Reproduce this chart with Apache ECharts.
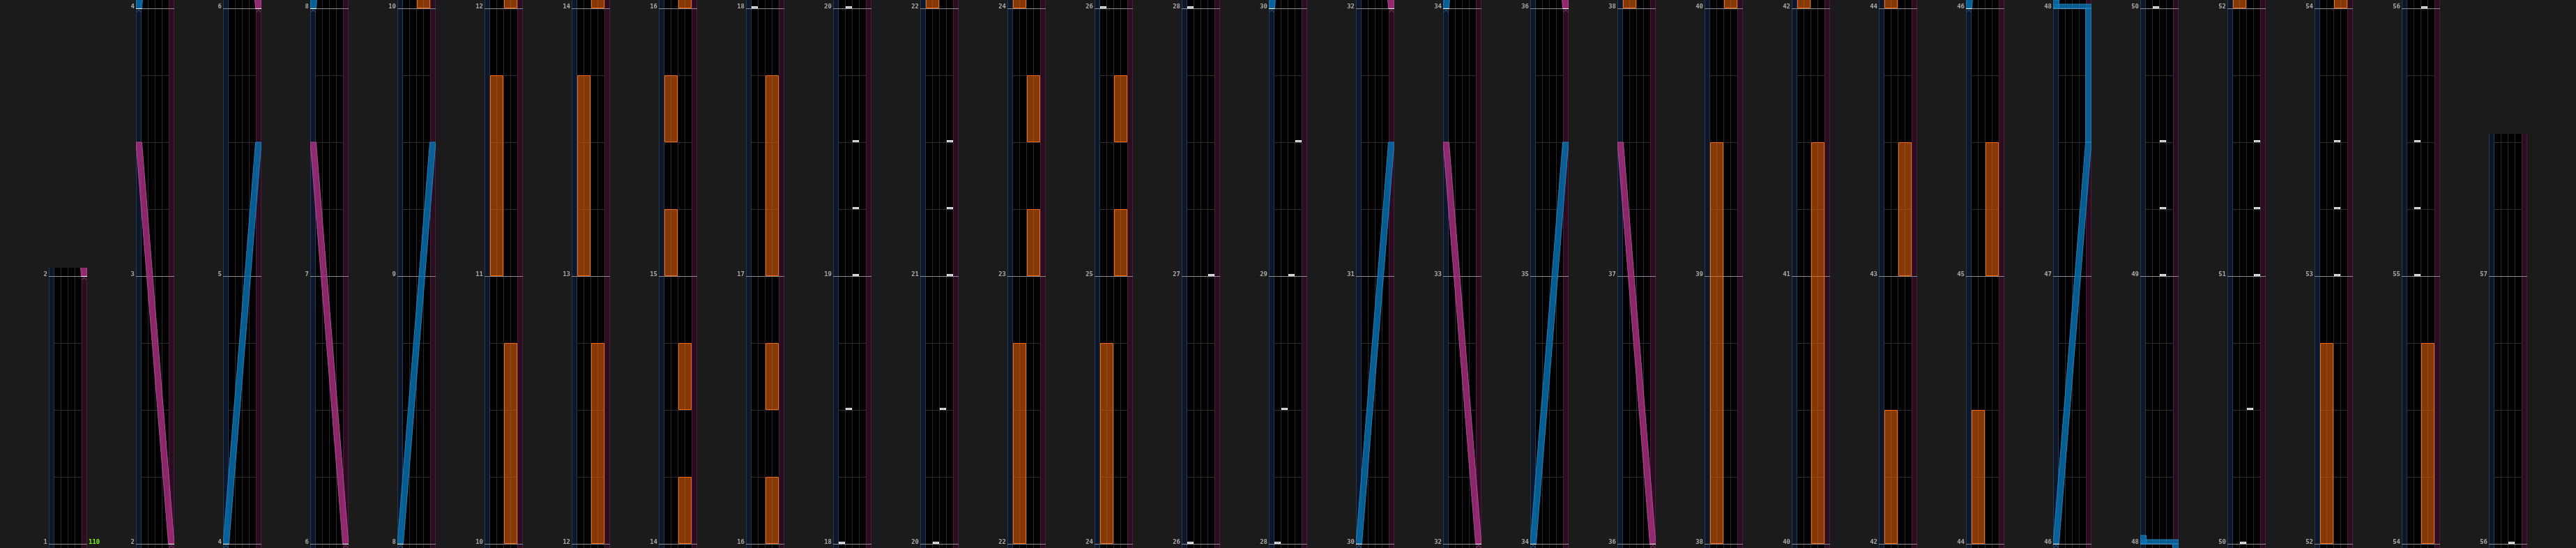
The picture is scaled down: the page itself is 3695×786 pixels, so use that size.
<!DOCTYPE html>
<html>
<head>
<meta charset="utf-8">
<script src="https://cdn.jsdelivr.net/npm/echarts@6/dist/echarts.min.js"></script>
<style>
html,body{margin:0;padding:0;background:#1b1b1b;overflow:hidden;}
#chart{width:3695px;height:786px;}
</style>
</head>
<body>
<div id="chart"></div>
<script>
// ---------------- DATA (times are in measures: measure number + fraction) ----------------
const measureNumbers = [1,2,3,4,5,6,7,8,9,10,11,12,13,14,15,16,17,18,19,20,21,22,23,24,25,26,27,28,29,30,
  31,32,33,34,35,36,37,38,39,40,41,42,43,44,45,46,47,48,49,50,51,52,53,54,55,56,57];
const columnStartMeasures = [1,2,4,6,8,10,12,14,16,18,20,22,24,26,28,30,32,34,36,38,40,42,44,46,48,50,52,54,56];
const songEnd = 57.53125;
const beatsPerMeasure = 4;
const bpmChanges = [[1, 110]];

// BT chips: [time, lane]  lane 0..3 = A..D
const btNotes = [
  [18,0],[18.5,1],[19,2],[19.25,2],[19.5,2],[20,1],[20.5,2],[21,3],[21.25,3],[21.5,3],
  [26,0],[27,3],[28,0],[28.5,1],[29,2],[29.5,3],
  [49,2],[49.25,2],[49.5,2],[50,1],[50.5,2],[51,3],[51.25,3],[51.5,3],
  [53,2],[53.25,2],[53.5,2],[55,1],[55.25,1],[55.5,1],[56,2]
];

// FX holds: [start, end, side]  side 0 = left (A+B), 1 = right (C+D)
const fxHolds = [
  [10,10.75,1],[11,11.75,0],[12,12.75,1],[13,13.75,0],
  [14,14.25,1],[14.5,14.75,1],[15,15.25,0],[15.5,15.75,0],
  [16,16.25,1],[16.5,16.75,1],[17,17.75,1],
  [22,22.75,0],[23,23.25,1],[23.5,23.75,1],
  [24,24.75,0],[25,25.25,1],[25.5,25.75,1],
  [38,39.5,0],[40,41.5,1],[42,42.5,0],[43,43.5,1],[44,44.5,0],[45,45.5,1],
  [52,52.75,0],[54,54.75,1]
];

// Lasers: list of polylines, each point [time, position 0..1]
const laserLeft = [
  [[4,0],[5.5,1]],
  [[8,0],[9.5,1]],
  [[30,0],[31.5,1]],
  [[34,0],[35.5,1]],
  [[46,0],[47.5,1],[48,1],[48,0],[48.03125,0]]
];
const laserRight = [
  [[2,1],[3.5,0]],
  [[6,1],[7.5,0]],
  [[32,1],[33.5,0]],
  [[36,1],[37.5,0]]
];

// ---------------- LAYOUT / STYLE ----------------
const PX_PER_MEASURE = 384;
const CANVAS_H = 786;
const COL_LEFT0 = 70, COL_PITCH = 125, COL_W = 55;
const LANE_UNITS = 5.5;          // 0.75 laser + 4 BT + 0.75 laser
const LASER_LANE = 0.75;
const BAND_W = 0.84;             // laser band width in lane units
const BOTTOM_PAD = 1/64, TOP_PAD = 1/32;

const C = {
  bg:'#1b1b1b', lane:'#000000',
  leftLane:'#0e1729', leftBorder:'#1f3b56',
  rightLane:'#2a0d1f', rightBorder:'#4e1a3d',
  sep:'#272727', beat:'#2b2b2b', measure:'#8a8a8a',
  label:'#a9a9a9', bpm:'#7cfc00',
  fxFill:'rgba(236,102,12,0.56)', fxStroke:'#f2690f',
  chipOuter:'#f2f6fa', chipInner:'#9aa6b3',
  blueFill:'rgba(8,112,175,0.82)', blueStroke:'#1c83c4',
  pinkFill:'rgba(168,48,128,0.82)', pinkStroke:'#b8479a'
};

function laserCenter(p){ return BAND_W/2 + p*(LANE_UNITS - BAND_W); }

// flatten laser polylines into segments
const laserSegments = [];
[[laserLeft,0],[laserRight,1]].forEach(([lines, side]) => {
  lines.forEach(pts => {
    for (let i = 0; i < pts.length - 1; i++) {
      laserSegments.push([pts[i][0], pts[i][1], pts[i+1][0], pts[i+1][1], side, i === 0 ? 1 : 0]);
    }
  });
});

const columns = columnStartMeasures.map((s, k) => {
  const next = columnStartMeasures[k+1];
  const vmin = s - BOTTOM_PAD;
  const vmax = next !== undefined ? next + TOP_PAD : songEnd;
  const height = (vmax - vmin) * PX_PER_MEASURE;
  return { k, vmin, vmax, height, left: COL_LEFT0 + COL_PITCH*k, top: CANVAS_H - height };
});

const grids = [], xAxes = [], yAxes = [], series = [];

columns.forEach(col => {
  const k = col.k;
  grids.push({ left: col.left, top: col.top, width: COL_W, height: col.height,
    show: true, backgroundColor: C.lane, borderWidth: 0, containLabel: false });
  xAxes.push({ type:'value', gridIndex:k, min:0, max:LANE_UNITS, show:false });
  yAxes.push({ type:'value', gridIndex:k, min:col.vmin, max:col.vmax, show:false });

  const base = { type:'custom', xAxisIndex:k, yAxisIndex:k, silent:true, animation:false };

  // lane structure
  series.push(Object.assign({}, base, {
    z: 1, clip: true, data: [[0, col.vmin]],
    renderItem: (params, api) => {
      const top = api.coord([0, col.vmax])[1], bot = api.coord([0, col.vmin])[1];
      const xPix = u => Math.floor(api.coord([u, col.vmin])[0]);
      const ch = [];
      const l0 = xPix(0), l1 = xPix(LASER_LANE), r0 = xPix(LANE_UNITS - LASER_LANE), r1 = xPix(LANE_UNITS);
      ch.push({type:'rect', shape:{x:l0, y:top, width:l1-l0+1, height:bot-top}, style:{fill:C.leftLane}});
      ch.push({type:'rect', shape:{x:r0, y:top, width:r1-r0, height:bot-top}, style:{fill:C.rightLane}});
      ch.push({type:'rect', shape:{x:l0, y:top, width:1, height:bot-top}, style:{fill:C.leftBorder}});
      ch.push({type:'rect', shape:{x:l1, y:top, width:1, height:bot-top}, style:{fill:C.leftBorder}});
      ch.push({type:'rect', shape:{x:r0, y:top, width:1, height:bot-top}, style:{fill:C.rightBorder}});
      ch.push({type:'rect', shape:{x:r1-1, y:top, width:1, height:bot-top}, style:{fill:C.rightBorder}});
      for (let i = 1; i <= 3; i++) {
        const xs = xPix(LASER_LANE + i);
        ch.push({type:'rect', shape:{x:xs, y:top, width:1, height:bot-top}, style:{fill:C.sep}});
      }
      return {type:'group', children: ch};
    }
  }));

  // measure + beat lines
  series.push(Object.assign({}, base, {
    z: 2, clip: true, data: measureNumbers.map(m => [m]),
    renderItem: (params, api) => {
      const m = api.value(0);
      if (m > col.vmax + 1 || m + 1 < col.vmin) return null;
      const ch = [];
      const xL = Math.floor(api.coord([0, m])[0]);
      const xR = Math.floor(api.coord([LANE_UNITS, m])[0]);
      const bL = Math.floor(api.coord([LASER_LANE, m])[0]) + 1;
      const bR = Math.floor(api.coord([LANE_UNITS - LASER_LANE, m])[0]);
      for (let b = 1; b < beatsPerMeasure; b++) {
        const y = Math.round(api.coord([0, m + b/beatsPerMeasure])[1]);
        ch.push({type:'rect', shape:{x:bL, y:y, width:bR-bL, height:1}, style:{fill:C.beat}});
      }
      const y = Math.round(api.coord([0, m])[1]);
      ch.push({type:'rect', shape:{x:xL, y:y, width:xR-xL, height:1}, style:{fill:C.measure}});
      return {type:'group', children: ch};
    }
  }));

  // FX holds
  series.push(Object.assign({}, base, {
    z: 3, clip: true, data: fxHolds,
    renderItem: (params, api) => {
      const t0 = api.value(0), t1 = api.value(1), side = api.value(2);
      if (t1 < col.vmin || t0 > col.vmax) return null;
      const xl = LASER_LANE + side*2, xr = xl + 2;
      const a = api.coord([xl, t1]), b = api.coord([xr, t0]);
      const x0 = Math.floor(a[0]) + 1, x1 = Math.floor(b[0]);
      const yT = Math.round(a[1]), yB = Math.round(b[1]);
      return {type:'rect', shape:{x:x0+0.5, y:yT+0.5, width:x1-x0-1, height:yB-yT-1},
        style:{fill:C.fxFill, stroke:C.fxStroke, lineWidth:1}};
    }
  }));

  // Lasers
  series.push(Object.assign({}, base, {
    z: 4, clip: true, data: laserSegments,
    renderItem: (params, api) => {
      const t0 = api.value(0), p0 = api.value(1), t1 = api.value(2), p1 = api.value(3);
      const side = api.value(4), isStart = api.value(5);
      if (t1 < col.vmin - 0.05 || t0 > col.vmax + 0.05) return null;
      const fill = side === 0 ? C.blueFill : C.pinkFill;
      const stroke = side === 0 ? C.blueStroke : C.pinkStroke;
      const ch = [];
      if (t1 > t0) {
        const a = api.coord([laserCenter(p0) - BAND_W/2, t0]);
        const b = api.coord([laserCenter(p0) + BAND_W/2, t0]);
        const c = api.coord([laserCenter(p1) + BAND_W/2, t1]);
        const d = api.coord([laserCenter(p1) - BAND_W/2, t1]);
        ch.push({type:'polygon', shape:{points:[a,b,c,d]}, style:{fill:fill, stroke:stroke, lineWidth:1}});
      } else {
        const lo = Math.min(p0,p1), hi = Math.max(p0,p1);
        const a = api.coord([laserCenter(lo) - BAND_W/2, t0]);
        const b = api.coord([laserCenter(hi) + BAND_W/2, t0]);
        ch.push({type:'rect', shape:{x:a[0], y:a[1]-6, width:b[0]-a[0], height:6}, style:{fill:fill, stroke:stroke, lineWidth:1}});
      }
      if (isStart) {
        const l = api.coord([laserCenter(p0) - BAND_W/2, t0]);
        const r = api.coord([laserCenter(p0) + BAND_W/2, t0]);
        const y = Math.round(l[1]);
        const cxp = (l[0] + r[0]) / 2;
        ch.push({type:'rect', shape:{x:l[0], y:y, width:r[0]-l[0], height:1}, style:{fill:'#ffffff'}});
        ch.push({type:'polyline', shape:{points:[[cxp-3, y+5.5],[cxp, y+2],[cxp+3, y+5.5]]},
          style:{stroke:stroke, lineWidth:1, fill:null, opacity:0.8}});
      }
      return {type:'group', children: ch};
    }
  }));

  // BT chips
  series.push(Object.assign({}, base, {
    z: 5, clip: true, data: btNotes,
    renderItem: (params, api) => {
      const t = api.value(0), lane = api.value(1);
      if (t < col.vmin - 0.05 || t > col.vmax + 0.05) return null;
      const p = api.coord([LASER_LANE + lane, t]), q = api.coord([LASER_LANE + lane + 1, t]);
      const x0 = Math.floor(p[0]) + 1, x1 = Math.floor(q[0]);
      const y = Math.round(p[1]);
      return {type:'group', children:[
        {type:'rect', shape:{x:x0, y:y-3, width:x1-x0, height:3}, style:{fill:C.chipOuter}},
        {type:'rect', shape:{x:x0+1, y:y-2, width:x1-x0-2, height:1}, style:{fill:C.chipInner}}
      ]};
    }
  }));

  // measure number labels
  series.push(Object.assign({}, base, {
    z: 6, clip: false, data: measureNumbers.map(m => [m]),
    renderItem: (params, api) => {
      const m = api.value(0);
      if (m < col.vmin || m > col.vmax) return null;
      const p = api.coord([0, m]);
      return {type:'text', x: Math.floor(p[0]) - 2, y: Math.round(p[1]) + 2,
        style:{text: String(m), fill: C.label, font:'bold 9px "DejaVu Sans Mono", monospace',
          align:'right', verticalAlign:'bottom'}};
    }
  }));

  // BPM markers
  series.push(Object.assign({}, base, {
    z: 6, clip: false, data: bpmChanges,
    renderItem: (params, api) => {
      const t = api.value(0), bpm = api.value(1);
      if (t < col.vmin || t > col.vmax - TOP_PAD) return null;
      const p = api.coord([LANE_UNITS, t]);
      return {type:'text', x: Math.floor(p[0]) + 2, y: Math.round(p[1]) + 2,
        style:{text: String(bpm), fill: C.bpm, font:'bold 9px "DejaVu Sans Mono", monospace',
          align:'left', verticalAlign:'bottom'}};
    }
  }));
});

const chart = echarts.init(document.getElementById('chart'), null, {renderer:'canvas'});
chart.setOption({
  backgroundColor: C.bg,
  animation: false,
  grid: grids, xAxis: xAxes, yAxis: yAxes, series: series
});
</script>
</body>
</html>
